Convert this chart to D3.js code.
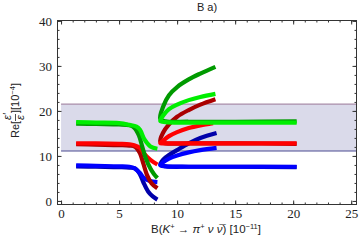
<!DOCTYPE html>
<html>
<head>
<meta charset="utf-8">
<script src="https://cdn.jsdelivr.net/npm/d3@7"></script>
<style>
  body { margin: 0; background: #fff; }
  svg { display: block; }
  .tick-label { font-family: "Liberation Serif", serif; font-size: 13px; fill: #222; }
  .lab { font-family: "Liberation Sans", Arial, sans-serif; font-size: 11px; fill: #222; }
</style>
</head>
<body>
<div id="chart"></div>
<script>
// chart values: [B(K -> pi nu nubar), Re(eps'/eps)]
var xTicks = [0, 5, 10, 15, 20, 25]
var yTicks = [0, 10, 20, 30, 40]
var band = [11.1, 21.5]   // shaded range of Re(eps'/eps)

// left branches (dark drawn first, light on top)
var blueDarkLeft = [[1.3,7.7],[3,7.6],[5,7.5],[5.9,7.4],[6.4,7.2],[6.8,5.9],[7.1,4.1],[7.5,2.1],[7.9,1.0],[8.3,0.3]]
var blueLightLeft = [[1.3,7.9],[3,7.8],[5,7.7],[5.9,7.6],[6.3,7.3],[6.8,6.2],[7.1,5.2],[7.6,4.5],[8.3,4.2]]
var redDarkLeft = [[1.3,12.6],[3,12.5],[5,12.4],[5.9,12.3],[6.4,12.0],[6.8,10.6],[7.0,9.1],[7.4,5.8],[7.8,3.9],[8.3,2.8]]
var redLightLeft = [[1.3,12.8],[3,12.8],[5,12.7],[5.9,12.6],[6.3,12.4],[6.8,11.8],[7.1,10.7],[7.7,9.1],[8.3,8.1]]
var greenDarkLeft = [[1.3,17.2],[3,17.1],[5,17.0],[5.9,16.8],[6.3,16.3],[6.7,14.6],[7.0,12.0],[7.3,9.5],[7.7,7.2],[8.0,6.0],[8.3,5.1]]
var greenLightLeft = [[1.3,17.5],[3,17.4],[5,17.3],[5.9,16.9],[6.5,16.5],[6.8,15.8],[7.2,13.6],[7.7,12.1],[8.3,11.6]]

// right branches: from the end of the rising arm, through the cusp, out along the flat arm
var blueDarkRight = [[13.4,15.1],[12,14.0],[11,12.8],[10,11.3],[9.3,10.2],[8.8,9.2],[8.55,8.1],[9,7.7],[11,7.6],[15,7.6],[20.3,7.5]]
var blueLightRight = [[13.4,11.8],[12,11.3],[11,10.8],[10,10.1],[9.3,9.4],[8.8,8.6],[8.55,7.9],[9,7.7],[11,7.6],[15,7.6],[20.3,7.6]]
var redDarkRight = [[13.3,22.6],[12,21.4],[11,20.2],[10,18.7],[9.3,17.0],[8.8,15.2],[8.55,13.2],[9,12.8],[11,12.8],[15,12.8],[20.3,12.7]]
var redLightRight = [[13.1,17.3],[12,16.8],[11,16.2],[10,15.3],[9.3,14.4],[8.8,13.4],[8.55,12.8],[9,12.8],[11,12.8],[15,12.8],[20.3,12.8]]
var greenDarkRight = [[13.3,29.8],[12,28.3],[11,27.0],[10,25.3],[9.3,23.5],[8.8,21.0],[8.55,18.3],[9,17.7],[11,17.6],[15,17.6],[20.3,17.7]]
var greenLightRight = [[13.3,23.8],[12,23.1],[11,22.4],[10,21.4],[9.3,20.4],[8.8,19.0],[8.55,17.8],[9,17.5],[11,17.4],[15,17.4],[20.3,17.4]]

var series = [
  { data: blueDarkLeft, color: "#0000aa" },
  { data: blueDarkRight, color: "#0000aa" },
  { data: blueLightLeft, color: "#0000ff" },
  { data: blueLightRight, color: "#0000ff" },
  { data: redDarkLeft, color: "#aa0000" },
  { data: redDarkRight, color: "#aa0000" },
  { data: redLightLeft, color: "#ff0000" },
  { data: redLightRight, color: "#ff0000" },
  { data: greenDarkLeft, color: "#009a00" },
  { data: greenDarkRight, color: "#009a00" },
  { data: greenLightLeft, color: "#00ee00" },
  { data: greenLightRight, color: "#00ee00" }
]

var w = 360, h = 248
var m = { l: 57, r: 3, t: 20, b: 43 }

var svg = d3.select("#chart").append("svg")
  .attr("width", w)
  .attr("height", h)

var x = d3.scaleLinear().domain([-0.35, 25.5]).range([m.l, w - m.r])
var y = d3.scaleLinear().domain([-0.9, 40.2]).range([h - m.b, m.t])

svg.append("clipPath").attr("id", "clip")
  .append("rect")
  .attr("x", m.l).attr("y", m.t)
  .attr("width", w - m.l - m.r).attr("height", h - m.t - m.b)

var plot = svg.append("g").attr("clip-path", "url(#clip)")

// shaded band
plot.append("rect")
  .attr("x", x(0))
  .attr("y", y(band[1]))
  .attr("width", x(30) - x(0))
  .attr("height", y(band[0]) - y(band[1]))
  .attr("fill", "#dadaea")
plot.append("line")
  .attr("x1", x(0)).attr("x2", x(30))
  .attr("y1", y(band[1])).attr("y2", y(band[1]))
  .attr("stroke", "#a88ca8").attr("stroke-width", 1.3)
plot.append("line")
  .attr("x1", x(0)).attr("x2", x(30))
  .attr("y1", y(band[0])).attr("y2", y(band[0]))
  .attr("stroke", "#4c4c92").attr("stroke-width", 1.1)

var line = d3.line()
  .x(function(d) { return x(d[0]) })
  .y(function(d) { return y(d[1]) })
  .curve(d3.curveCatmullRom.alpha(0.5))

plot.selectAll("path.curve")
  .data(series)
  .enter().append("path")
  .attr("class", "curve")
  .attr("d", function(d) { return line(d.data) })
  .attr("fill", "none")
  .attr("stroke", function(d) { return d.color })
  .attr("stroke-width", 4.2)
  .attr("stroke-linejoin", "round")

// axes, ticks pointing inward on all four sides
var xMinor = d3.range(0, 26, 1)
var yMinor = d3.range(0, 41, 2)

svg.append("g")
  .attr("transform", "translate(0," + (h - m.b) + ")")
  .call(d3.axisBottom(x).tickValues(xMinor).tickSize(-2.5).tickFormat(""))
svg.append("g")
  .attr("transform", "translate(0," + (h - m.b) + ")")
  .call(d3.axisBottom(x).tickValues(xTicks).tickSize(-4.5).tickPadding(4).tickFormat(d3.format("d")))
  .call(function(g) { g.selectAll("text").attr("class", "tick-label") })
svg.append("g")
  .attr("transform", "translate(0," + m.t + ")")
  .call(d3.axisTop(x).tickValues(xMinor).tickSize(-2.5).tickFormat(""))
svg.append("g")
  .attr("transform", "translate(0," + m.t + ")")
  .call(d3.axisTop(x).tickValues(xTicks).tickSize(-4.5).tickFormat(""))

svg.append("g")
  .attr("transform", "translate(" + m.l + ",0)")
  .call(d3.axisLeft(y).tickValues(yMinor).tickSize(-2.5).tickFormat(""))
svg.append("g")
  .attr("transform", "translate(" + m.l + ",0)")
  .call(d3.axisLeft(y).tickValues(yTicks).tickSize(-4.5).tickPadding(5).tickFormat(d3.format("d")))
  .call(function(g) { g.selectAll("text").attr("class", "tick-label") })
svg.append("g")
  .attr("transform", "translate(" + (w - m.r) + ",0)")
  .call(d3.axisRight(y).tickValues(yMinor).tickSize(-2.5).tickFormat(""))
svg.append("g")
  .attr("transform", "translate(" + (w - m.r) + ",0)")
  .call(d3.axisRight(y).tickValues(yTicks).tickSize(-4.5).tickFormat(""))

svg.selectAll(".domain").remove()
svg.selectAll(".tick line").attr("stroke", "#333")

// frame
svg.append("rect")
  .attr("x", m.l + 0.5).attr("y", m.t + 0.5)
  .attr("width", w - m.l - m.r - 1).attr("height", h - m.t - m.b - 1)
  .attr("fill", "none").attr("stroke", "#333")

// title
svg.append("text").attr("class", "lab")
  .attr("x", 207).attr("y", 11)
  .attr("text-anchor", "middle")
  .text("B a)")

// x label
var xl = svg.append("text").attr("class", "lab")
  .attr("x", 206).attr("y", 233)
  .attr("text-anchor", "middle")
  .style("font-size", "11.5px")
xl.append("tspan").text("B(")
xl.append("tspan").attr("font-style", "italic").text("K")
xl.append("tspan").attr("dy", -4).attr("font-size", 7.5).text("+")
xl.append("tspan").attr("dy", 4).text(" \u2192 ")
xl.append("tspan").attr("font-style", "italic").text("\u03c0")
xl.append("tspan").attr("dy", -4).attr("font-size", 7.5).text("+")
xl.append("tspan").attr("dy", 4).attr("font-style", "italic").text(" \u03bd \u03bd\u0305")
xl.append("tspan").text(") [10")
xl.append("tspan").attr("dy", -4).attr("font-size", 7.5).text("\u221211")
xl.append("tspan").attr("dy", 4).text("]")

// y label, rotated: Re[eps'/eps][10^-4]
var yl = svg.append("g").attr("transform", "translate(19,109) rotate(-90)")
yl.append("text").attr("class", "lab").attr("x", -29).attr("y", 0).text("Re[")
yl.append("text").attr("class", "lab").attr("x", -11).attr("y", -8)
  .attr("font-size", 9).attr("font-style", "italic").text("\u03b5\u2032")
yl.append("line").attr("x1", -12).attr("x2", -5).attr("y1", -3.5).attr("y2", -3.5)
  .attr("stroke", "#222").attr("stroke-width", 0.8)
yl.append("text").attr("class", "lab").attr("x", -11).attr("y", 5)
  .attr("font-size", 9).attr("font-style", "italic").text("\u03b5")
var yt = yl.append("text").attr("class", "lab").attr("x", -4).attr("y", 0)
yt.append("tspan").text("][10")
yt.append("tspan").attr("dy", -4).attr("font-size", 7.5).text("\u22124")
yt.append("tspan").attr("dy", 4).text("]")
</script>
</body>
</html>
